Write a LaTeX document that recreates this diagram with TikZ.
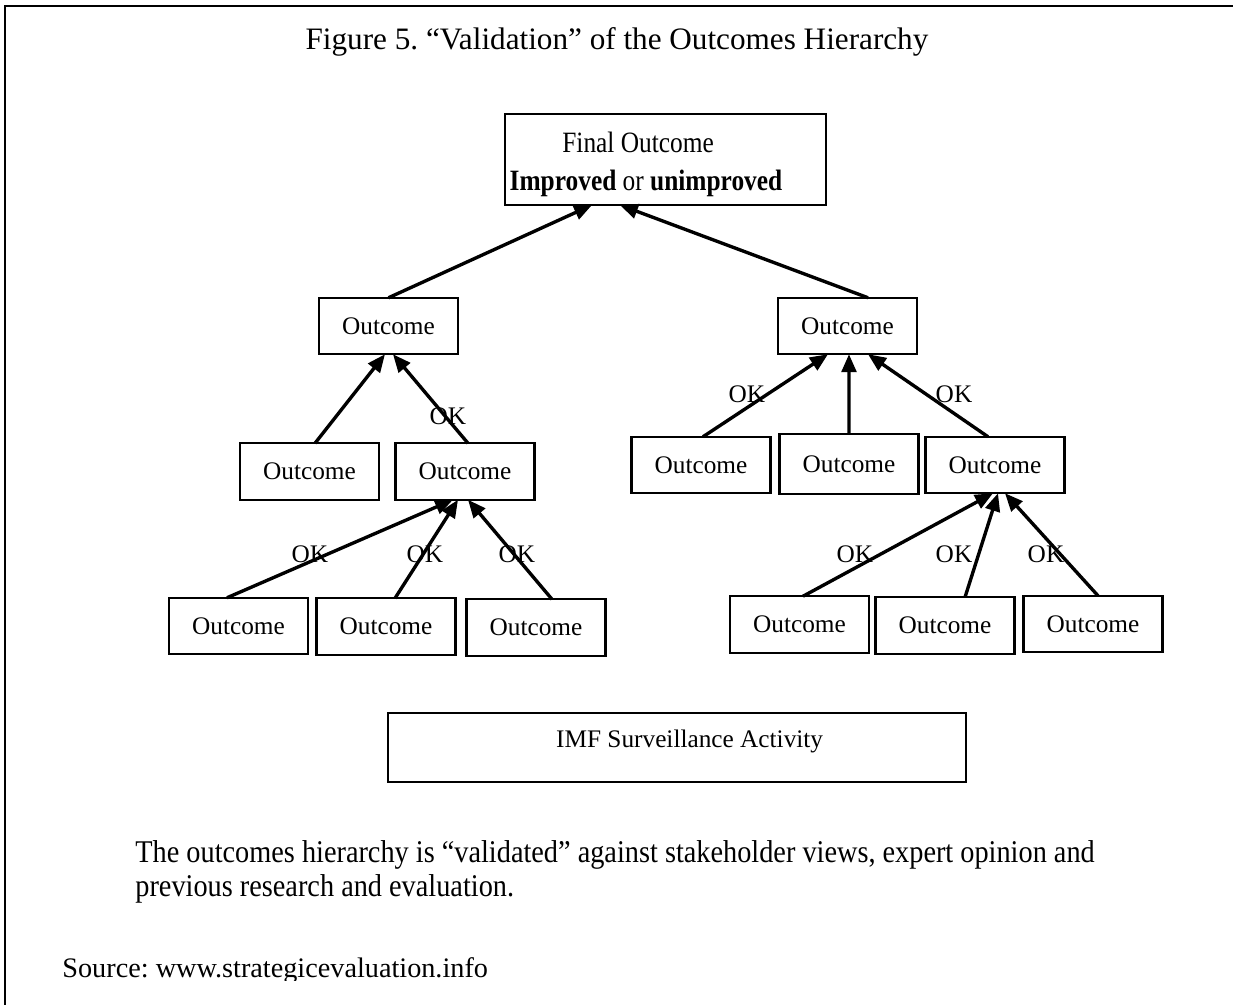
\documentclass[tikz,border=0pt]{standalone}
\usepackage{fontspec}
\setmainfont{Liberation Serif}
\usetikzlibrary{arrows.meta,calc}

\begin{document}
\frenchspacing
\begin{tikzpicture}[
    x=0.4745pt, y=-0.4745pt,
    every node/.style={font=\fontsize{12}{14}\selectfont},
    box/.style={draw, line width=1pt, inner sep=0pt, outer sep=0pt,
                minimum width=66pt, minimum height=26.8pt},
    arr/.style={-{Triangle[length=8.5pt,width=7pt]}, line width=1.6pt},
    oklbl/.style={inner sep=0pt},
  ]
    \useasboundingbox (0,0) rectangle (1233,1005);

    % frame
    \draw[line width=1.3pt] (1245,6) -- (5,6) -- (5,1015);

    % title
    \node[anchor=base, font=\fontsize{14.8}{17}\selectfont] (title) at (617,50)
      {Figure 5. ``Validation'' of the Outcomes Hierarchy};

    % top
    \node[box, minimum width=152.3pt, minimum height=43.2pt, align=center,
          font=\fontsize{14}{18}\selectfont] (final) at (665.5,159.5)
      {\rule{0pt}{14.3pt}\scalebox{0.86}[1]{Final Outcome}\hspace*{26pt}\\
       \scalebox{0.86}[1]{\textbf{Improved} or \textbf{unimproved}}\hspace*{18.5pt}};

    % second row
    \node[box] (outL)  at (388.5,326) {Outcome};
    \node[box] (outR)  at (847.5,326) {Outcome};

    % third row
    \node[box] (outLa) at (309.5,471.5) {Outcome};
    \node[box] (outLb) at (465,471.5)   {Outcome};
    \node[box] (outRa) at (701,465)     {Outcome};
    \node[box, minimum height=28.5pt] (outRb) at (849,464) {Outcome};
    \node[box] (outRc) at (995,465)     {Outcome};

    % bottom row
    \node[box] (leafL1) at (238.5,626)  {Outcome};
    \node[box] (leafL2) at (386,626.5)  {Outcome};
    \node[box] (leafL3) at (536,627.5)  {Outcome};
    \node[box] (leafR1) at (799.5,624.5) {Outcome};
    \node[box] (leafR2) at (945,625.5)  {Outcome};
    \node[box] (leafR3) at (1093,624)   {Outcome};

    % activity
    \node[box, minimum width=274.3pt, minimum height=32.7pt] (imf) at (677,747.5)
      {\hspace*{12pt}\raisebox{3pt}[\height][\depth]{IMF Surveillance Activity}};

    % arrows
    \draw[arr] ($(outL.north)+(0,0)$)     -- ($(final.south)+(-73.5,0)$);
    \draw[arr] ($(outR.north)+(20.5,0)$)  -- ($(final.south)+(-45.5,0)$);
    \draw[arr] ($(outLa.north)+(5.5,0)$)  -- ($(outL.south)+(-3.5,0)$);
    \draw[arr] ($(outLb.north)+(3,0)$)    -- ($(outL.south)+(4.5,0)$);
    \draw[arr] ($(outRa.north)+(2,0)$)    -- ($(outR.south)+(-19.5,0)$);
    \draw[arr] (outRb.north)              -- ($(outR.south)+(1.5,0)$);
    \draw[arr] ($(outRc.north)+(-7,0)$)   -- ($(outR.south)+(20.5,0)$);
    \draw[arr] ($(leafL1.north)+(-11.5,0)$) -- ($(outLb.south)+(-12,0)$);
    \draw[arr] ($(leafL2.north)+(9,0)$)   -- ($(outLb.south)+(-7,0)$);
    \draw[arr] ($(leafL3.north)+(16,0)$)  -- ($(outLb.south)+(3,0)$);
    \draw[arr] ($(leafR1.north)+(3.5,0)$) -- ($(outRc.south)+(-2,0)$);
    \draw[arr] ($(leafR2.north)+(20,0)$)  -- ($(outRc.south)+(3,0)$);
    \draw[arr] ($(leafR3.north)+(5,0)$)   -- ($(outRc.south)+(10,0)$);

    % OK labels
    \node[oklbl] (okLb) at (448,416) {OK};
    \node[oklbl] (okRa) at (747,394) {OK};
    \node[oklbl] (okRc) at (954,394) {OK};
    \node[oklbl] (okL1) at (310,554) {OK};
    \node[oklbl] (okL2) at (425,554) {OK};
    \node[oklbl] (okL3) at (517,554) {OK};
    \node[oklbl] (okR1) at (855,554) {OK};
    \node[oklbl] (okR2) at (954,554) {OK};
    \node[oklbl] (okR3) at (1046,554) {OK};

    % note
    \node[anchor=base west, align=left, inner sep=0pt,
          font=\fontsize{15}{16.6}\selectfont] (note) at (135,897)
      {\scalebox{0.895}[1]{The outcomes hierarchy is ``validated'' against stakeholder views, expert opinion and}\\
       \scalebox{0.895}[1]{previous research and evaluation.}};

    % source
    \begin{scope}
      \clip (0,0) rectangle (1233,981);
      \node[anchor=base west, inner sep=0pt, font=\fontsize{13.4}{16}\selectfont]
        (source) at (62,978) {Source: www.strategicevaluation.info};
    \end{scope}
  \end{tikzpicture}
\end{document}
